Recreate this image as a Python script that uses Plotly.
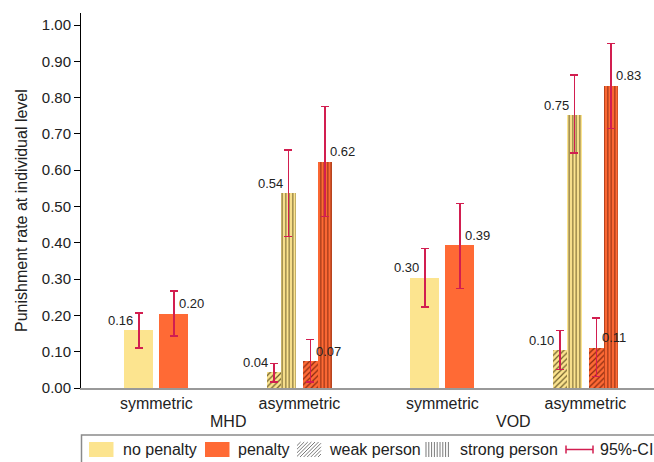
import plotly.graph_objects as go

# ---------------- data ----------------
categories = ["symmetric", "asymmetric", "symmetric", "asymmetric"]
groups = ["MHD", "VOD"]

# symmetric conditions (MHD, VOD)
sym_nopen = [0.159, 0.304]
sym_nopen_lo = [0.110, 0.223]
sym_nopen_hi = [0.207, 0.384]

sym_pen = [0.204, 0.393]
sym_pen_lo = [0.143, 0.274]
sym_pen_hi = [0.267, 0.508]

# asymmetric conditions (MHD, VOD)
weak_nopen = [0.043, 0.104]
weak_nopen_lo = [0.016, 0.051]
weak_nopen_hi = [0.067, 0.159]

strong_nopen = [0.537, 0.752]
strong_nopen_lo = [0.418, 0.648]
strong_nopen_hi = [0.655, 0.862]

weak_pen = [0.074, 0.111]
weak_pen_lo = [0.016, 0.032]
weak_pen_hi = [0.134, 0.193]

strong_pen = [0.623, 0.833]
strong_pen_lo = [0.473, 0.715]
strong_pen_hi = [0.775, 0.949]

y_ticks = [0.0, 0.1, 0.2, 0.3, 0.4, 0.5, 0.6, 0.7, 0.8, 0.9, 1.0]
legend_labels = ["no penalty", "penalty", "weak person", "strong person", "95%-CI"]

# ---------------- style ----------------
FONT = "Liberation Sans, Arial, sans-serif"
TXT = "#222222"
YELLOW = "#FCE48F"
ORANGE = "#FF6A35"
CI_COL = "#D21E50"
W, H = 654, 462
ML, MR, MT, MB = 81, 0, 13, 74
PW, PH = W - ML - MR, H - MT - MB


def xp(px):
    return (px - ML) / PW


def yp(py):
    return (H - MB - py) / PH


fig = go.Figure()

sym_idx = [0, 2]
asym_idx = [1, 3]


def add_bars(idx, off, width, vals, lo, hi, color, shape, fg, side):
    xs = [i + off for i in idx]
    marker = dict(color=color, line=dict(width=0))
    if shape:
        marker["pattern"] = dict(shape=shape, bgcolor=color, fgcolor=fg, fgopacity=0.8,
                                 size=4 if shape == "/" else 3.5, solidity=0.3)
    fig.add_trace(go.Bar(
        x=xs, y=vals, width=width, marker=marker, showlegend=False, hoverinfo="skip",
        error_y=dict(type="data", symmetric=False,
                     array=[h - v for h, v in zip(hi, vals)],
                     arrayminus=[v - l for v, l in zip(vals, lo)],
                     color=CI_COL, thickness=1.5, width=4),
    ))
    for x, v in zip(xs, vals):
        fig.add_annotation(
            x=x, y=v, text=f"{v:.2f}", showarrow=False,
            xanchor="right" if side == "left" else "left",
            yanchor="middle",
            xshift=-3.5 if side == "left" else 3.5, yshift=10,
            font=dict(size=13, color=TXT, family=FONT))


SW = 0.203
AW = 0.101
add_bars(sym_idx, -0.122, SW, sym_nopen, sym_nopen_lo, sym_nopen_hi, YELLOW, None, None, "left")
add_bars(sym_idx, 0.122, SW, sym_pen, sym_pen_lo, sym_pen_hi, ORANGE, None, None, "right")
add_bars(asym_idx, -0.178, AW, weak_nopen, weak_nopen_lo, weak_nopen_hi, YELLOW, "/", "#4a3a10", "left")
add_bars(asym_idx, -0.0775, AW, strong_nopen, strong_nopen_lo, strong_nopen_hi, YELLOW, "|", "#4a3a10", "left")
add_bars(asym_idx, 0.0775, AW, weak_pen, weak_pen_lo, weak_pen_hi, ORANGE, "/", "#6a1a05", "right")
add_bars(asym_idx, 0.178, AW, strong_pen, strong_pen_lo, strong_pen_hi, ORANGE, "|", "#6a1a05", "right")

# group labels
for gx, g in zip([0.5, 2.5], groups):
    fig.add_annotation(x=gx, xref="x", y=0, yref="paper", yshift=-33, yanchor="middle",
                       text=g, showarrow=False, font=dict(size=16, color=TXT, family=FONT))

# y-axis title
fig.add_annotation(x=xp(21), y=yp(211), xref="paper", yref="paper", textangle=-90,
                   text="Punishment rate at individual level", showarrow=False,
                   xanchor="center", yanchor="middle",
                   font=dict(size=16, color=TXT, family=FONT))

# ---------------- legend (drawn) ----------------
shapes = []
shapes.append(dict(type="rect", xref="paper", yref="paper",
                   x0=xp(81.5), x1=xp(720), y0=yp(435), y1=yp(520),
                   line=dict(color="#8a8a8a", width=1.5), fillcolor="rgba(0,0,0,0)"))
sy0, sy1 = 442, 457
for x0, col in [(89, YELLOW), (205, ORANGE)]:
    shapes.append(dict(type="rect", xref="paper", yref="paper",
                       x0=xp(x0), x1=xp(x0 + 24.5), y0=yp(sy1), y1=yp(sy0),
                       line=dict(width=0), fillcolor=col))

# hatch swatch (weak person)
hx0, hx1 = 297, 321
segs = []
s = hx0 + sy0
while s <= hx1 + sy1:
    xa = max(hx0, s - sy1)
    xb = min(hx1, s - sy0)
    if xb > xa:
        segs.append(f"M{xp(xa):.5f},{yp(s - xa):.5f} L{xp(xb):.5f},{yp(s - xb):.5f}")
    s += 3.6
shapes.append(dict(type="path", xref="paper", yref="paper", path=" ".join(segs),
                   line=dict(color="#7a7a7a", width=1)))

# vertical swatch (strong person)
vx0, vx1 = 425, 449
segs = []
x = vx0 + 1
while x <= vx1:
    segs.append(f"M{xp(x):.5f},{yp(sy0):.5f} L{xp(x):.5f},{yp(sy1):.5f}")
    x += 2.8
shapes.append(dict(type="path", xref="paper", yref="paper", path=" ".join(segs),
                   line=dict(color="#7a7a7a", width=1)))

# CI symbol
cy = 449.5
ci_x0, ci_x1 = 566, 593
shapes.append(dict(type="line", xref="paper", yref="paper", x0=xp(ci_x0), x1=xp(ci_x1),
                   y0=yp(cy), y1=yp(cy), line=dict(color=CI_COL, width=1.5)))
for cx in (ci_x0, ci_x1):
    shapes.append(dict(type="line", xref="paper", yref="paper", x0=xp(cx), x1=xp(cx),
                       y0=yp(cy - 4), y1=yp(cy + 4), line=dict(color=CI_COL, width=1.5)))

for tx, lab in zip([120.5, 235.5, 327, 457.5, 598], legend_labels):
    fig.add_annotation(x=xp(tx), y=yp(cy), xref="paper", yref="paper", text=lab,
                       showarrow=False, xanchor="left", yanchor="middle",
                       font=dict(size=16, color=TXT, family=FONT))

left = -(156.4 - ML) / 143.0
fig.update_layout(
    width=W, height=H,
    margin=dict(l=ML, r=MR, t=MT, b=MB, pad=0),
    plot_bgcolor="white", paper_bgcolor="white",
    barmode="overlay", bargap=0,
    shapes=shapes,
    font=dict(family=FONT, color=TXT),
    xaxis=dict(range=[left, left + PW / 143.0], tickvals=[0, 1, 2, 3], ticktext=categories,
               showline=True, linecolor="#999999", linewidth=2, ticks="", showgrid=False,
               zeroline=False, tickfont=dict(size=16, color=TXT, family=FONT)),
    yaxis=dict(range=[0, PH / 363.0], tickvals=y_ticks, ticktext=[f"{v:.2f}" for v in y_ticks],
               showline=True, linecolor="black", linewidth=1, ticks="outside", ticklen=6,
               tickcolor="black", showgrid=False, zeroline=False,
               tickfont=dict(size=15, color=TXT, family=FONT)),
)

fig.write_html("out.html", config={"displayModeBar": False},
               post_script="document.body.style.margin='0';document.body.style.padding='0';"
                           "document.documentElement.style.overflow='hidden';")
